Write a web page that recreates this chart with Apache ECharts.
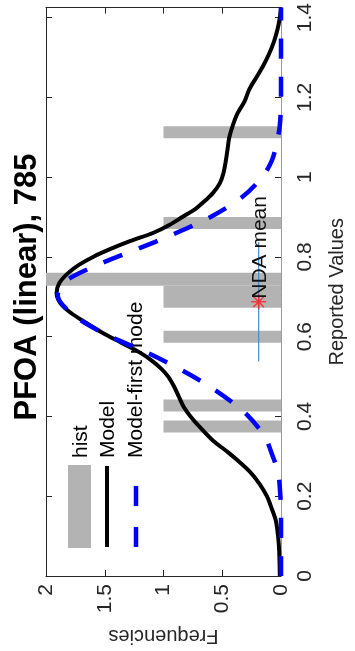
<!DOCTYPE html>
<html>
<head>
<meta charset="utf-8">
<script src="https://cdn.jsdelivr.net/npm/echarts@6/dist/echarts.min.js"></script>
<style>
html,body{margin:0;padding:0;background:#fff;}
#chart{width:355px;height:651px;}
</style>
</head>
<body>
<div id="chart"></div>
<script>
// ---- data (x = Reported Values, y = Frequencies) ----
const titleText = 'PFOA (linear), 785';
const freqTicks = [0, 0.5, 1, 1.5, 2];
const valueTicks = [0, 0.2, 0.4, 0.6, 0.8, 1, 1.2, 1.4];

// histogram bars: lower edge, upper edge, count
const binLow   = [0.3600, 0.4125, 0.5850, 0.6725, 0.7275, 0.8700, 1.0975];
const binHigh  = [0.3900, 0.4425, 0.6150, 0.7275, 0.7600, 0.9000, 1.1275];
const binCount = [1, 1, 1, 1, 2, 1, 1];

// Model curve
const modelValues = [0, 0.06, 0.1, 0.14, 0.17, 0.2, 0.23, 0.26, 0.29, 0.31, 0.34, 0.37, 0.4, 0.425, 0.45, 0.475, 0.5, 0.52, 0.54, 0.56, 0.585, 0.61, 0.635, 0.66, 0.685, 0.71, 0.735, 0.76, 0.78, 0.8, 0.82, 0.84, 0.86, 0.88, 0.9, 0.92, 0.94, 0.96, 0.985, 1.01, 1.04, 1.07, 1.1, 1.13, 1.16, 1.19, 1.22, 1.25, 1.28, 1.31, 1.34, 1.37, 1.4, 1.425];
const modelFreq   = [0.01, 0.015, 0.025, 0.045, 0.08, 0.12, 0.18, 0.26, 0.37, 0.45, 0.58, 0.68, 0.77, 0.83, 0.87, 0.91, 0.96, 1.02, 1.1, 1.2, 1.36, 1.52, 1.66, 1.79, 1.88, 1.91, 1.885, 1.81, 1.72, 1.6, 1.45, 1.28, 1.09, 0.95, 0.84, 0.73, 0.65, 0.58, 0.52, 0.49, 0.47, 0.455, 0.44, 0.41, 0.37, 0.31, 0.27, 0.21, 0.15, 0.1, 0.06, 0.03, 0.01, 0.0];

// Model-first mode curve
const firstValues = [0, 0.15, 0.2, 0.26, 0.3, 0.35, 0.41, 0.47, 0.52, 0.56, 0.6, 0.64, 0.68, 0.705, 0.74, 0.78, 0.82, 0.855, 0.9, 0.95, 1.0, 1.04, 1.08, 1.13, 1.2, 1.425];
const firstFreq   = [0, 0, 0.005, 0.025, 0.07, 0.14, 0.31, 0.58, 0.87, 1.14, 1.45, 1.7, 1.86, 1.9, 1.83, 1.56, 1.22, 0.93, 0.6, 0.33, 0.16, 0.08, 0.04, 0.01, 0, 0];

// NDA mean and its range
const ndaMean = 0.6875;
const ndaRange = [0.5375, 0.8375];
const ndaFreq = 0.19;
const ndaLabel = 'NDA mean';

const FONT = 'Liberation Sans, Arial, Helvetica, sans-serif';
const AX = '#262626';

const chart = echarts.init(document.getElementById('chart'), null, {renderer: 'canvas'});

const baseX = {
  type: 'value', min: 0, max: 2, interval: 0.5, inverse: true,
  splitLine: {show: false}
};
const baseY = {
  type: 'value', min: 0, max: 1.425, interval: 0.2,
  splitLine: {show: false}
};

const asterisk = 'path://M9,0 L11,0 L11,20 L9,20 Z M0,9 L20,9 L20,11 L0,11 Z M2.2,3.6 L3.6,2.2 L17.8,16.4 L16.4,17.8 Z M16.4,2.2 L17.8,3.6 L3.6,17.8 L2.2,16.4 Z';

const legendGraphics = [
  {type: 'text', x: 27, y: 287, rotation: Math.PI / 2,
    style: {text: titleText, font: 'bold 31px ' + FONT, fill: '#000', align: 'center', verticalAlign: 'middle'}},
  {type: 'rect', shape: {x: 68, y: 465, width: 23, height: 83}, style: {fill: '#b3b3b3'}},
  {type: 'line', shape: {x1: 107, y1: 466, x2: 107, y2: 547}, style: {stroke: '#000', lineWidth: 4}},
  {type: 'line', shape: {x1: 136, y1: 547, x2: 136, y2: 486}, style: {stroke: '#0000ff', lineWidth: 4.5, lineDash: [20, 21]}},
  {type: 'text', x: 81, y: 458, rotation: Math.PI / 2,
    style: {text: 'hist', font: '21px ' + FONT, fill: '#000', align: 'left', verticalAlign: 'middle'}},
  {type: 'text', x: 108, y: 458, rotation: Math.PI / 2,
    style: {text: 'Model', font: '21px ' + FONT, fill: '#000', align: 'left', verticalAlign: 'middle'}},
  {type: 'text', x: 136, y: 458, rotation: Math.PI / 2,
    style: {text: 'Model-first mode', font: '21px ' + FONT, fill: '#000', align: 'left', verticalAlign: 'middle'}}
];

const option = {
  backgroundColor: '#fff',
  animation: false,
  grid: {left: 46, right: 65, top: 7, bottom: 75, containLabel: false},
  xAxis: [
    Object.assign({}, baseX, {
      position: 'bottom',
      name: 'Frequencies', nameLocation: 'middle', nameRotate: 180, nameGap: 50,
      nameTextStyle: {fontFamily: FONT, fontSize: 20, color: AX},
      axisLine: {show: true, onZero: false, lineStyle: {color: AX, width: 1}},
      axisTick: {show: true, inside: true, length: 6, lineStyle: {color: AX}},
      axisLabel: {show: true, rotate: 90, margin: 8, fontFamily: FONT, fontSize: 21, color: AX,
        formatter: v => (freqTicks.indexOf(v) >= 0 ? String(v) : '')}
    }),
    Object.assign({}, baseX, {
      position: 'top',
      axisLine: {show: true, onZero: false, lineStyle: {color: AX, width: 1}},
      axisTick: {show: true, inside: true, length: 6, lineStyle: {color: AX}},
      axisLabel: {show: false}
    })
  ],
  yAxis: [
    Object.assign({}, baseY, {
      position: 'right',
      name: 'Reported Values', nameLocation: 'middle', nameRotate: 90, nameGap: 46,
      nameTextStyle: {fontFamily: FONT, fontSize: 20, color: AX},
      axisLine: {show: true, onZero: false, lineStyle: {color: '#9a9a9a', width: 1}},
      axisTick: {show: true, inside: true, length: 6, lineStyle: {color: AX}},
      axisLabel: {show: true, rotate: 90, margin: 14, fontFamily: FONT, fontSize: 21, color: AX,
        showMaxLabel: false,
        formatter: v => {
          const r = Math.round(v * 10) / 10;
          return valueTicks.indexOf(r) >= 0 && Math.abs(r - v) < 1e-6 ? String(r) : '';
        }}
    }),
    Object.assign({}, baseY, {
      position: 'left',
      axisLine: {show: true, onZero: false, lineStyle: {color: AX, width: 1}},
      axisTick: {show: true, inside: true, length: 6, lineStyle: {color: AX}},
      axisLabel: {show: false}
    })
  ],
  series: [
    {
      name: 'hist', type: 'custom', xAxisIndex: 0, yAxisIndex: 0,
      data: binLow.map((l, i) => [l, binHigh[i], binCount[i]]),
      encode: {x: 2, y: [0, 1]},
      renderItem: function (params, api) {
        const lo = api.value(0), hi = api.value(1), c = api.value(2);
        const p0 = api.coord([0, lo]);
        const p1 = api.coord([c, hi]);
        const cs = params.coordSys;
        const rect = echarts.graphic.clipRectByRect({
          x: Math.min(p0[0], p1[0]), y: Math.min(p0[1], p1[1]),
          width: Math.abs(p1[0] - p0[0]), height: Math.abs(p1[1] - p0[1])
        }, {x: cs.x, y: cs.y, width: cs.width, height: cs.height});
        return rect && {type: 'rect', shape: rect, style: {fill: '#b3b3b3'}};
      },
      z: 1
    },
    {
      name: 'Model', type: 'line', xAxisIndex: 0, yAxisIndex: 0,
      data: modelValues.map((v, i) => [modelFreq[i], v]),
      showSymbol: false, smooth: 0.3,
      lineStyle: {color: '#000', width: 4},
      z: 2
    },
    {
      name: 'Model-first mode', type: 'line', xAxisIndex: 0, yAxisIndex: 0,
      data: firstValues.map((v, i) => [firstFreq[i], v]),
      showSymbol: false, smooth: 0.3,
      lineStyle: {color: '#0000ff', width: 4.5, type: [20, 18], cap: 'butt'},
      z: 3
    },
    {
      name: 'NDA range', type: 'line', xAxisIndex: 0, yAxisIndex: 0,
      data: ndaRange.map(v => [ndaFreq, v]),
      showSymbol: false,
      lineStyle: {color: '#3d8fd1', width: 1.2},
      z: 4
    },
    {
      name: 'NDA mean', type: 'scatter', xAxisIndex: 0, yAxisIndex: 0,
      data: [[ndaFreq, ndaMean]],
      symbol: asterisk, symbolSize: 15,
      itemStyle: {color: '#ff2020'},
      z: 5
    }
  ],
  graphic: legendGraphics
};

chart.setOption(option);

// place the "NDA mean" text at the data point, via the chart's own scales
const p = chart.convertToPixel({gridIndex: 0}, [ndaFreq, ndaMean]);
chart.setOption({
  graphic: legendGraphics.concat([
    {type: 'text', x: p[0] + 2, y: p[1] - 3, rotation: Math.PI / 2, z: 100,
      style: {text: ndaLabel, font: '21px ' + FONT, fill: '#111', align: 'left', verticalAlign: 'middle'}}
  ])
});
</script>
</body>
</html>
